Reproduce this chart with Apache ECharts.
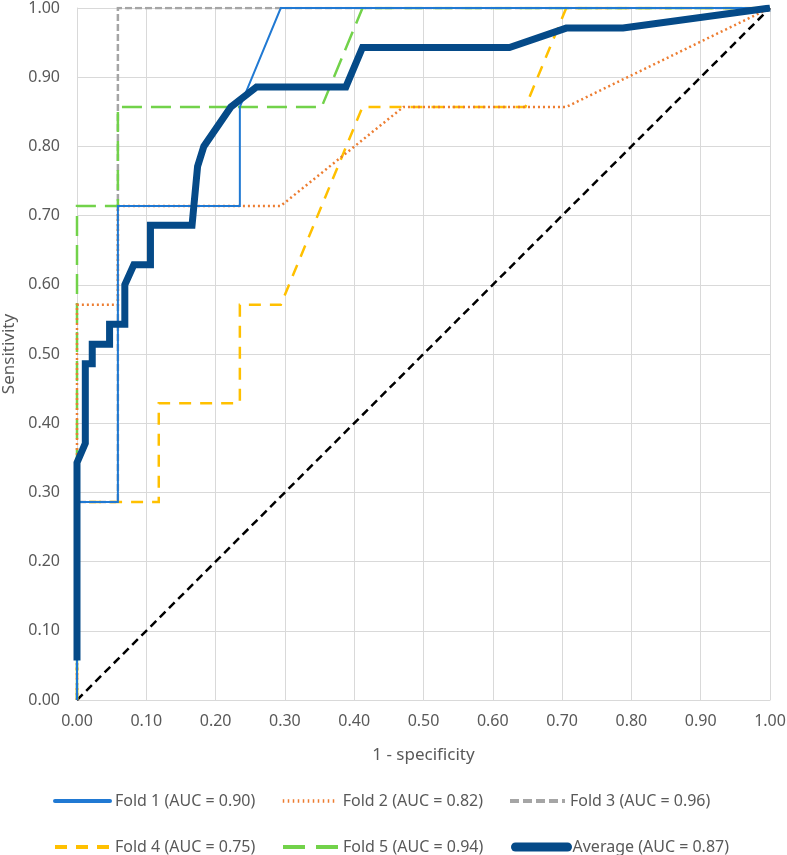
<!DOCTYPE html>
<html>
<head>
<meta charset="utf-8">
<script src="https://cdn.jsdelivr.net/npm/echarts@6/dist/echarts.min.js"></script>
<style>html,body{margin:0;padding:0;background:#fff}#c{width:787px;height:855px}</style>
</head>
<body>
<div id="c"></div>
<script>
const fold1 = [[0,0],[0,0.286],[0.059,0.286],[0.059,0.714],[0.235,0.714],[0.235,0.857],[0.294,1.0],[1,1]];
const fold2 = [[0,0],[0,0.571],[0.059,0.571],[0.059,0.714],[0.294,0.714],[0.471,0.857],[0.706,0.857],[1,1]];
const fold3 = [[0,0],[0,0.286],[0.059,0.286],[0.059,1.0],[1,1]];
const fold4 = [[0,0],[0,0.286],[0.118,0.286],[0.118,0.429],[0.235,0.429],[0.235,0.571],[0.294,0.571],[0.412,0.857],[0.647,0.857],[0.706,1.0],[1,1]];
const fold5 = [[0,0],[0,0.714],[0.059,0.714],[0.059,0.857],[0.353,0.857],[0.412,1.0],[1,1]];
const average = [[0,0.057],[0,0.343],[0.012,0.371],[0.012,0.486],[0.022,0.486],[0.022,0.514],[0.047,0.514],[0.047,0.543],[0.069,0.543],[0.069,0.6],[0.082,0.629],[0.106,0.629],[0.106,0.686],[0.166,0.686],[0.174,0.771],[0.183,0.8],[0.222,0.857],[0.259,0.886],[0.388,0.886],[0.412,0.943],[0.624,0.943],[0.706,0.971],[0.788,0.971],[1,1]];
const diagonal = [[0,0],[1,1]];
const seriesNames = ['Fold 1 (AUC = 0.90)','Fold 2 (AUC = 0.82)','Fold 3 (AUC = 0.96)','Fold 4 (AUC = 0.75)','Fold 5 (AUC = 0.94)','Average (AUC = 0.87)'];
const xTitle = '1 - specificity';
const yTitle = 'Sensitivity';

const font = 'Noto Sans';
const txt = '#595959';
const chart = echarts.init(document.getElementById('c'));

function mk(name, data, color, width, type, z){
  return {name, type:'line', data, symbol:'none', z, animation:false,
    lineStyle:{color, width, type, cap:'butt', join:'miter'}, itemStyle:{color}};
}
const legendPos = [[53,793],[281,793],[508,793],[53,839],[281,839],[511,839]];
const legendLine = [
  {width:4, cap:'round'},
  {width:3.5, type:[1.5,3.5], cap:'butt'},
  {width:4, type:[9,4], cap:'butt'},
  {width:4, type:[12,9], cap:'butt'},
  {width:4, type:[22,11], cap:'butt'},
  {width:9, cap:'round'}
];
const legends = seriesNames.map((n,i)=>({
  data:[n], left:legendPos[i][0], top:legendPos[i][1], itemWidth: i===5?52:55, itemHeight:14, itemGap:0,
  padding:0, itemStyle:{opacity:0, borderWidth:0}, lineStyle:legendLine[i],
  textStyle:{fontFamily:font, fontSize:16, color:txt, padding:[0,0,0,0]}
}));

chart.setOption({
  animation:false,
  grid:{left:77, right:17, top:8, bottom:155, outerBoundsMode:'none', containLabel:false},
  legend: legends,
  xAxis:{type:'value', min:0, max:1, interval:0.1,
    name:xTitle, nameLocation:'middle', nameGap:47,
    nameTextStyle:{fontFamily:font, fontSize:17, color:txt},
    axisLine:{show:true, lineStyle:{color:'#d9d9d9', width:1}}, axisTick:{show:false},
    axisLabel:{formatter:v=>v.toFixed(2), fontFamily:font, fontSize:16, color:txt, margin:13},
    splitLine:{show:true, lineStyle:{color:'#d9d9d9', width:1}}},
  yAxis:{type:'value', min:0, max:1, interval:0.1,
    name:yTitle, nameLocation:'middle', nameGap:58,
    nameTextStyle:{fontFamily:font, fontSize:17, color:txt},
    axisLine:{show:true, lineStyle:{color:'#d9d9d9', width:1}}, axisTick:{show:false},
    axisLabel:{formatter:v=>v.toFixed(2), fontFamily:font, fontSize:16, color:txt, margin:17},
    splitLine:{show:true, lineStyle:{color:'#d9d9d9', width:1}}},
  series:[
    {name:'diag', type:'line', data:diagonal, symbol:'none', z:1, lineStyle:{color:'#000', width:2.5, type:[8,5]}},
    mk(seriesNames[2], fold3, '#a5a5a5', 2.5, [7,3], 2),
    mk(seriesNames[3], fold4, '#ffc000', 2.5, [12,9], 3),
    mk(seriesNames[4], fold5, '#72d24a', 2.5, [20,9], 4),
    mk(seriesNames[1], fold2, '#ed7d31', 2.5, [2,3], 5),
    mk(seriesNames[0], fold1, '#2079d3', 2, 'solid', 6),
    mk(seriesNames[5], average, '#054a88', 7, 'solid', 7)
  ]
});
</script>
</body>
</html>
